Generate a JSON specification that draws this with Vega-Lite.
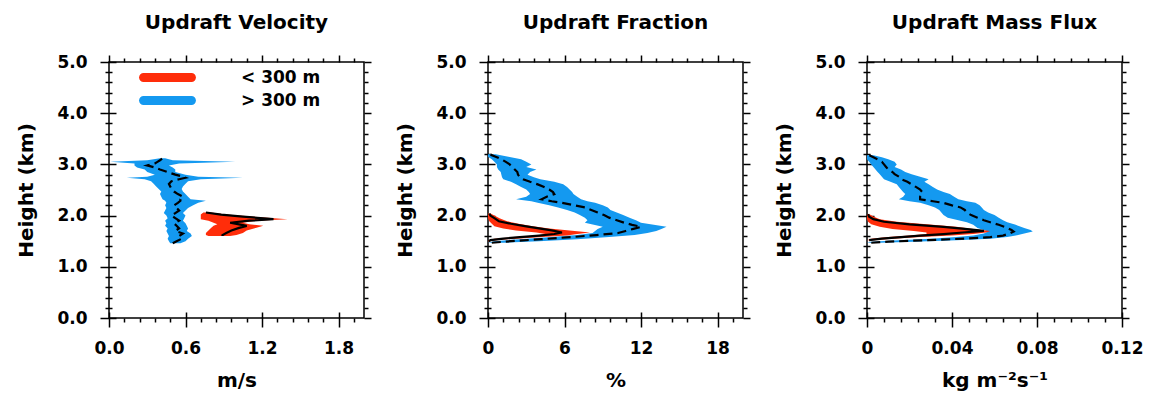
{
"$schema":"https://vega.github.io/schema/vega-lite/v6.json",
"padding":{"left":16,"top":12,"right":5,"bottom":5},
"datasets":{
"p1":[
{"h":3.12,"lo":0.40,"hi":0.44,"m":0.42,"g":"> 300 m"},
{"h":3.08,"lo":0.30,"hi":0.50,"m":0.40,"g":"> 300 m"},
{"h":3.05,"lo":0.01,"hi":0.99,"m":0.38,"g":"> 300 m"},
{"h":3.02,"lo":0.20,"hi":0.55,"m":0.36,"g":"> 300 m"},
{"h":2.98,"lo":0.20,"hi":0.47,"m":0.30,"g":"> 300 m"},
{"h":2.94,"lo":0.22,"hi":0.50,"m":0.36,"g":"> 300 m"},
{"h":2.90,"lo":0.28,"hi":0.52,"m":0.40,"g":"> 300 m"},
{"h":2.85,"lo":0.30,"hi":0.52,"m":0.46,"g":"> 300 m"},
{"h":2.80,"lo":0.36,"hi":0.60,"m":0.52,"g":"> 300 m"},
{"h":2.76,"lo":0.30,"hi":0.70,"m":0.58,"g":"> 300 m"},
{"h":2.74,"lo":0.14,"hi":1.05,"m":0.60,"g":"> 300 m"},
{"h":2.71,"lo":0.28,"hi":0.72,"m":0.55,"g":"> 300 m"},
{"h":2.67,"lo":0.33,"hi":0.62,"m":0.49,"g":"> 300 m"},
{"h":2.62,"lo":0.35,"hi":0.60,"m":0.47,"g":"> 300 m"},
{"h":2.57,"lo":0.37,"hi":0.58,"m":0.48,"g":"> 300 m"},
{"h":2.52,"lo":0.39,"hi":0.57,"m":0.49,"g":"> 300 m"},
{"h":2.47,"lo":0.41,"hi":0.58,"m":0.51,"g":"> 300 m"},
{"h":2.42,"lo":0.40,"hi":0.60,"m":0.54,"g":"> 300 m"},
{"h":2.37,"lo":0.41,"hi":0.62,"m":0.58,"g":"> 300 m"},
{"h":2.32,"lo":0.42,"hi":0.64,"m":0.56,"g":"> 300 m"},
{"h":2.29,"lo":0.44,"hi":0.76,"m":0.56,"g":"> 300 m"},
{"h":2.25,"lo":0.45,"hi":0.70,"m":0.54,"g":"> 300 m"},
{"h":2.20,"lo":0.44,"hi":0.66,"m":0.51,"g":"> 300 m"},
{"h":2.15,"lo":0.45,"hi":0.62,"m":0.53,"g":"> 300 m"},
{"h":2.10,"lo":0.44,"hi":0.60,"m":0.55,"g":"> 300 m"},
{"h":2.05,"lo":0.43,"hi":0.58,"m":0.52,"g":"> 300 m"},
{"h":2.00,"lo":0.45,"hi":0.60,"m":0.49,"g":"> 300 m"},
{"h":1.95,"lo":0.46,"hi":0.59,"m":0.52,"g":"> 300 m"},
{"h":1.90,"lo":0.44,"hi":0.58,"m":0.55,"g":"> 300 m"},
{"h":1.85,"lo":0.45,"hi":0.60,"m":0.51,"g":"> 300 m"},
{"h":1.80,"lo":0.44,"hi":0.61,"m":0.53,"g":"> 300 m"},
{"h":1.75,"lo":0.46,"hi":0.62,"m":0.55,"g":"> 300 m"},
{"h":1.70,"lo":0.45,"hi":0.61,"m":0.52,"g":"> 300 m"},
{"h":1.65,"lo":0.46,"hi":0.64,"m":0.58,"g":"> 300 m"},
{"h":1.60,"lo":0.47,"hi":0.65,"m":0.55,"g":"> 300 m"},
{"h":1.55,"lo":0.46,"hi":0.62,"m":0.57,"g":"> 300 m"},
{"h":1.50,"lo":0.47,"hi":0.60,"m":0.53,"g":"> 300 m"},
{"h":1.46,"lo":0.48,"hi":0.56,"m":0.50,"g":"> 300 m"},
{"h":2.06,"lo":0.74,"hi":0.80,"m":0.76,"g":"< 300 m"},
{"h":2.02,"lo":0.72,"hi":0.92,"m":0.88,"g":"< 300 m"},
{"h":1.98,"lo":0.72,"hi":1.12,"m":1.05,"g":"< 300 m"},
{"h":1.93,"lo":0.72,"hi":1.40,"m":1.29,"g":"< 300 m"},
{"h":1.90,"lo":0.78,"hi":1.15,"m":1.10,"g":"< 300 m"},
{"h":1.86,"lo":0.82,"hi":1.05,"m":0.95,"g":"< 300 m"},
{"h":1.83,"lo":0.85,"hi":1.10,"m":1.02,"g":"< 300 m"},
{"h":1.80,"lo":0.82,"hi":1.21,"m":1.08,"g":"< 300 m"},
{"h":1.76,"lo":0.80,"hi":1.15,"m":1.02,"g":"< 300 m"},
{"h":1.71,"lo":0.78,"hi":1.08,"m":0.96,"g":"< 300 m"},
{"h":1.66,"lo":0.76,"hi":1.05,"m":0.92,"g":"< 300 m"},
{"h":1.62,"lo":0.76,"hi":1.00,"m":0.89,"g":"< 300 m"},
{"h":1.60,"lo":0.78,"hi":0.95,"m":0.89,"g":"< 300 m"}
],
"p2":[
{"h":3.20,"lo":0.0,"hi":0.6,"m":0.1,"g":"> 300 m"},
{"h":3.15,"lo":0.0,"hi":1.6,"m":0.6,"g":"> 300 m"},
{"h":3.10,"lo":0.3,"hi":2.6,"m":1.05,"g":"> 300 m"},
{"h":3.05,"lo":0.5,"hi":3.0,"m":1.4,"g":"> 300 m"},
{"h":3.00,"lo":0.7,"hi":3.4,"m":1.7,"g":"> 300 m"},
{"h":2.95,"lo":0.7,"hi":3.0,"m":1.9,"g":"> 300 m"},
{"h":2.90,"lo":0.8,"hi":3.8,"m":2.1,"g":"> 300 m"},
{"h":2.85,"lo":1.0,"hi":3.3,"m":2.3,"g":"> 300 m"},
{"h":2.80,"lo":1.05,"hi":3.1,"m":2.35,"g":"> 300 m"},
{"h":2.75,"lo":1.1,"hi":3.6,"m":2.5,"g":"> 300 m"},
{"h":2.71,"lo":1.2,"hi":4.1,"m":2.75,"g":"> 300 m"},
{"h":2.66,"lo":1.8,"hi":5.2,"m":3.3,"g":"> 300 m"},
{"h":2.61,"lo":2.2,"hi":5.9,"m":3.9,"g":"> 300 m"},
{"h":2.56,"lo":2.6,"hi":6.2,"m":4.4,"g":"> 300 m"},
{"h":2.51,"lo":3.0,"hi":6.4,"m":4.8,"g":"> 300 m"},
{"h":2.46,"lo":3.2,"hi":6.6,"m":5.1,"g":"> 300 m"},
{"h":2.42,"lo":3.3,"hi":6.7,"m":5.2,"g":"> 300 m"},
{"h":2.37,"lo":3.0,"hi":7.0,"m":4.6,"g":"> 300 m"},
{"h":2.32,"lo":2.2,"hi":7.3,"m":4.2,"g":"> 300 m"},
{"h":2.28,"lo":3.4,"hi":7.8,"m":5.0,"g":"> 300 m"},
{"h":2.25,"lo":3.9,"hi":8.4,"m":5.8,"g":"> 300 m"},
{"h":2.20,"lo":4.8,"hi":9.0,"m":6.8,"g":"> 300 m"},
{"h":2.16,"lo":5.5,"hi":9.4,"m":7.6,"g":"> 300 m"},
{"h":2.11,"lo":6.2,"hi":9.6,"m":8.1,"g":"> 300 m"},
{"h":2.06,"lo":6.8,"hi":10.1,"m":8.6,"g":"> 300 m"},
{"h":2.01,"lo":7.2,"hi":10.6,"m":9.1,"g":"> 300 m"},
{"h":1.96,"lo":7.6,"hi":11.1,"m":9.5,"g":"> 300 m"},
{"h":1.91,"lo":7.8,"hi":11.6,"m":10.1,"g":"> 300 m"},
{"h":1.86,"lo":7.6,"hi":12.0,"m":10.7,"g":"> 300 m"},
{"h":1.82,"lo":8.3,"hi":13.0,"m":11.3,"g":"> 300 m"},
{"h":1.78,"lo":9.0,"hi":14.0,"m":12.0,"g":"> 300 m"},
{"h":1.74,"lo":8.6,"hi":13.6,"m":11.4,"g":"> 300 m"},
{"h":1.70,"lo":8.4,"hi":13.2,"m":10.8,"g":"> 300 m"},
{"h":1.66,"lo":8.2,"hi":12.5,"m":10.2,"g":"> 300 m"},
{"h":1.62,"lo":7.0,"hi":11.5,"m":8.5,"g":"> 300 m"},
{"h":1.58,"lo":5.0,"hi":9.5,"m":6.5,"g":"> 300 m"},
{"h":1.54,"lo":2.5,"hi":7.0,"m":4.2,"g":"> 300 m"},
{"h":1.50,"lo":0.5,"hi":4.0,"m":1.8,"g":"> 300 m"},
{"h":1.47,"lo":0.0,"hi":1.2,"m":0.3,"g":"> 300 m"},
{"h":2.04,"lo":0.0,"hi":0.2,"m":0.1,"g":"< 300 m"},
{"h":2.00,"lo":0.0,"hi":0.5,"m":0.2,"g":"< 300 m"},
{"h":1.95,"lo":0.0,"hi":0.9,"m":0.5,"g":"< 300 m"},
{"h":1.89,"lo":0.1,"hi":1.5,"m":0.85,"g":"< 300 m"},
{"h":1.84,"lo":0.3,"hi":2.4,"m":1.8,"g":"< 300 m"},
{"h":1.79,"lo":0.5,"hi":3.5,"m":3.0,"g":"< 300 m"},
{"h":1.75,"lo":1.2,"hi":4.8,"m":4.0,"g":"< 300 m"},
{"h":1.71,"lo":2.2,"hi":6.4,"m":5.0,"g":"< 300 m"},
{"h":1.67,"lo":3.8,"hi":8.0,"m":5.8,"g":"< 300 m"},
{"h":1.64,"lo":4.5,"hi":7.0,"m":5.2,"g":"< 300 m"},
{"h":1.61,"lo":3.8,"hi":6.2,"m":4.0,"g":"< 300 m"},
{"h":1.58,"lo":2.0,"hi":4.2,"m":2.5,"g":"< 300 m"},
{"h":1.55,"lo":0.5,"hi":2.2,"m":1.2,"g":"< 300 m"},
{"h":1.52,"lo":0.0,"hi":0.6,"m":0.2,"g":"< 300 m"},
{"h":1.50,"lo":0.0,"hi":0.1,"m":0.05,"g":"< 300 m"}
],
"p3":[
{"h":3.18,"lo":0.0,"hi":0.003,"m":0.001,"g":"> 300 m"},
{"h":3.14,"lo":0.0,"hi":0.007,"m":0.003,"g":"> 300 m"},
{"h":3.10,"lo":0.0,"hi":0.010,"m":0.005,"g":"> 300 m"},
{"h":3.05,"lo":0.001,"hi":0.013,"m":0.007,"g":"> 300 m"},
{"h":3.00,"lo":0.002,"hi":0.014,"m":0.008,"g":"> 300 m"},
{"h":2.95,"lo":0.003,"hi":0.013,"m":0.009,"g":"> 300 m"},
{"h":2.90,"lo":0.004,"hi":0.016,"m":0.010,"g":"> 300 m"},
{"h":2.85,"lo":0.005,"hi":0.018,"m":0.012,"g":"> 300 m"},
{"h":2.81,"lo":0.006,"hi":0.021,"m":0.013,"g":"> 300 m"},
{"h":2.76,"lo":0.007,"hi":0.025,"m":0.015,"g":"> 300 m"},
{"h":2.71,"lo":0.008,"hi":0.029,"m":0.016,"g":"> 300 m"},
{"h":2.66,"lo":0.011,"hi":0.027,"m":0.019,"g":"> 300 m"},
{"h":2.61,"lo":0.014,"hi":0.029,"m":0.021,"g":"> 300 m"},
{"h":2.56,"lo":0.015,"hi":0.031,"m":0.023,"g":"> 300 m"},
{"h":2.51,"lo":0.016,"hi":0.033,"m":0.025,"g":"> 300 m"},
{"h":2.46,"lo":0.017,"hi":0.036,"m":0.026,"g":"> 300 m"},
{"h":2.42,"lo":0.018,"hi":0.039,"m":0.026,"g":"> 300 m"},
{"h":2.37,"lo":0.017,"hi":0.041,"m":0.025,"g":"> 300 m"},
{"h":2.32,"lo":0.015,"hi":0.043,"m":0.025,"g":"> 300 m"},
{"h":2.28,"lo":0.020,"hi":0.047,"m":0.031,"g":"> 300 m"},
{"h":2.25,"lo":0.025,"hi":0.051,"m":0.036,"g":"> 300 m"},
{"h":2.20,"lo":0.029,"hi":0.053,"m":0.040,"g":"> 300 m"},
{"h":2.16,"lo":0.032,"hi":0.054,"m":0.044,"g":"> 300 m"},
{"h":2.11,"lo":0.034,"hi":0.055,"m":0.046,"g":"> 300 m"},
{"h":2.06,"lo":0.035,"hi":0.057,"m":0.047,"g":"> 300 m"},
{"h":2.01,"lo":0.036,"hi":0.060,"m":0.049,"g":"> 300 m"},
{"h":1.96,"lo":0.038,"hi":0.062,"m":0.052,"g":"> 300 m"},
{"h":1.91,"lo":0.043,"hi":0.064,"m":0.055,"g":"> 300 m"},
{"h":1.87,"lo":0.047,"hi":0.066,"m":0.058,"g":"> 300 m"},
{"h":1.82,"lo":0.050,"hi":0.070,"m":0.062,"g":"> 300 m"},
{"h":1.76,"lo":0.052,"hi":0.074,"m":0.066,"g":"> 300 m"},
{"h":1.72,"lo":0.055,"hi":0.077,"m":0.068,"g":"> 300 m"},
{"h":1.69,"lo":0.057,"hi":0.078,"m":0.069,"g":"> 300 m"},
{"h":1.65,"lo":0.055,"hi":0.074,"m":0.067,"g":"> 300 m"},
{"h":1.61,"lo":0.050,"hi":0.070,"m":0.064,"g":"> 300 m"},
{"h":1.58,"lo":0.042,"hi":0.066,"m":0.058,"g":"> 300 m"},
{"h":1.55,"lo":0.030,"hi":0.058,"m":0.046,"g":"> 300 m"},
{"h":1.52,"lo":0.015,"hi":0.042,"m":0.028,"g":"> 300 m"},
{"h":1.49,"lo":0.002,"hi":0.022,"m":0.010,"g":"> 300 m"},
{"h":1.47,"lo":0.0,"hi":0.006,"m":0.002,"g":"> 300 m"},
{"h":2.03,"lo":0.0,"hi":0.001,"m":0.0005,"g":"< 300 m"},
{"h":1.98,"lo":0.0,"hi":0.003,"m":0.001,"g":"< 300 m"},
{"h":1.93,"lo":0.0,"hi":0.006,"m":0.003,"g":"< 300 m"},
{"h":1.88,"lo":0.0005,"hi":0.014,"m":0.008,"g":"< 300 m"},
{"h":1.83,"lo":0.002,"hi":0.028,"m":0.020,"g":"< 300 m"},
{"h":1.78,"lo":0.006,"hi":0.042,"m":0.036,"g":"< 300 m"},
{"h":1.74,"lo":0.012,"hi":0.050,"m":0.046,"g":"< 300 m"},
{"h":1.70,"lo":0.022,"hi":0.058,"m":0.055,"g":"< 300 m"},
{"h":1.67,"lo":0.028,"hi":0.056,"m":0.045,"g":"< 300 m"},
{"h":1.64,"lo":0.028,"hi":0.050,"m":0.036,"g":"< 300 m"},
{"h":1.61,"lo":0.020,"hi":0.040,"m":0.025,"g":"< 300 m"},
{"h":1.58,"lo":0.010,"hi":0.025,"m":0.016,"g":"< 300 m"},
{"h":1.55,"lo":0.002,"hi":0.012,"m":0.007,"g":"< 300 m"},
{"h":1.52,"lo":0.0,"hi":0.003,"m":0.001,"g":"< 300 m"}
]
},
"hconcat":[
{
"width":255,"height":256,
"title":{"text":"Updraft Velocity"},
"data":{"name":"p1"},
"layer":[
{"transform":[{"filter":"datum.g == '> 300 m'"}],
 "mark":{"type":"area","orient":"horizontal"},
 "encoding":{
  "y":{"field":"h","type":"quantitative","scale":{"domain":[0,5],"nice":false},
   "axis":{"orient":"left","values":[0,1,2,3,4,5],"format":".1f","offset":-7,"tickSize":16,"labelPadding":13,"title":"Height (km)","titlePadding":20}},
  "x":{"field":"lo","type":"quantitative","stack":null,"scale":{"domain":[0,2],"nice":false},
   "axis":{"orient":"bottom","values":[0,0.6,1.2,1.8],"format":".1f","offset":-6,"tickSize":15,"labelPadding":13,"title":"m/s","titlePadding":14}},
  "x2":{"field":"hi"},
  "color":{"field":"g","type":"nominal","scale":{"domain":["< 300 m","> 300 m"],"range":["#ff2d0a","#1499f0"]},
   "legend":{"orient":"none","legendX":47,"legendY":4,"title":null,"padding":0,
    "symbolType":"M -2.1 -0.395 L 2.1 -0.395 A 0.395 0.395 0 0 1 2.1 0.395 L -2.1 0.395 A 0.395 0.395 0 0 1 -2.1 -0.395 Z",
    "symbolSize":520,"symbolStrokeWidth":0,"symbolOpacity":1,"labelOffset":62,"rowPadding":3,
    "labelFont":"DejaVu Sans","labelFontWeight":"bold","labelFontSize":17,"labelColor":"black"}}
 }},
{"transform":[{"filter":"datum.g == '< 300 m'"}],
 "mark":{"type":"area","orient":"horizontal"},
 "encoding":{
  "y":{"field":"h","type":"quantitative","axis":{"orient":"left","values":[0.2,0.4,0.6,0.8,1.2,1.4,1.6,1.8,2.2,2.4,2.6,2.8,3.2,3.4,3.6,3.8,4.2,4.4,4.6,4.8],"labels":false,"offset":-3,"tickSize":7,"title":null}},
  "x":{"field":"lo","type":"quantitative","stack":null,"axis":{"orient":"bottom","values":[0.12,0.24,0.36,0.48,0.72,0.84,0.96,1.08,1.32,1.44,1.56,1.68,1.92],"labels":false,"tickSize":4,"title":null}},
  "x2":{"field":"hi"},
  "color":{"field":"g","type":"nominal","scale":{"domain":["< 300 m","> 300 m"],"range":["#ff2d0a","#1499f0"]}}
 }},
{"transform":[{"filter":"datum.g == '< 300 m'"}],
 "mark":{"type":"line","color":"black","strokeWidth":2.2},
 "encoding":{
  "y":{"field":"h","type":"quantitative","axis":{"orient":"right","values":[0,1,2,3,4,5],"labels":false,"tickSize":7,"title":null}},
  "x":{"field":"m","type":"quantitative","axis":{"orient":"top","values":[0,0.6,1.2,1.8],"labels":false,"tickSize":7,"title":null}},
  "order":{"field":"h"}
 }},
{"transform":[{"filter":"datum.g == '> 300 m'"}],
 "mark":{"type":"line","color":"black","strokeWidth":2.2,"strokeDash":[9,5]},
 "encoding":{
  "y":{"field":"h","type":"quantitative","axis":{"orient":"right","values":[0.2,0.4,0.6,0.8,1.2,1.4,1.6,1.8,2.2,2.4,2.6,2.8,3.2,3.4,3.6,3.8,4.2,4.4,4.6,4.8],"labels":false,"tickSize":4,"title":null}},
  "x":{"field":"m","type":"quantitative","axis":{"orient":"top","values":[0.12,0.24,0.36,0.48,0.72,0.84,0.96,1.08,1.32,1.44,1.56,1.68,1.92],"labels":false,"tickSize":4,"title":null}},
  "order":{"field":"h"}
 }}
],
"resolve":{"axis":{"x":"independent","y":"independent"}}
},
{
"width":255,"height":256,
"title":{"text":"Updraft Fraction"},
"data":{"name":"p2"},
"layer":[
{"transform":[{"filter":"datum.g == '> 300 m'"}],
 "mark":{"type":"area","orient":"horizontal"},
 "encoding":{
  "y":{"field":"h","type":"quantitative","scale":{"domain":[0,5],"nice":false},
   "axis":{"orient":"left","values":[0,1,2,3,4,5],"format":".1f","offset":-7,"tickSize":16,"labelPadding":13,"title":"Height (km)","titlePadding":20}},
  "x":{"field":"lo","type":"quantitative","stack":null,"scale":{"domain":[0,20],"nice":false},
   "axis":{"orient":"bottom","values":[0,6,12,18],"format":"d","offset":-6,"tickSize":15,"labelPadding":13,"title":"%","titlePadding":14}},
  "x2":{"field":"hi"},
  "color":{"field":"g","type":"nominal","scale":{"domain":["< 300 m","> 300 m"],"range":["#ff2d0a","#1499f0"]},"legend":null}
 }},
{"transform":[{"filter":"datum.g == '< 300 m'"}],
 "mark":{"type":"area","orient":"horizontal"},
 "encoding":{
  "y":{"field":"h","type":"quantitative","axis":{"orient":"left","values":[0.2,0.4,0.6,0.8,1.2,1.4,1.6,1.8,2.2,2.4,2.6,2.8,3.2,3.4,3.6,3.8,4.2,4.4,4.6,4.8],"labels":false,"offset":-3,"tickSize":7,"title":null}},
  "x":{"field":"lo","type":"quantitative","stack":null,"axis":{"orient":"bottom","values":[1.2,2.4,3.6,4.8,7.2,8.4,9.6,10.8,13.2,14.4,15.6,16.8,19.2],"labels":false,"tickSize":4,"title":null}},
  "x2":{"field":"hi"},
  "color":{"field":"g","type":"nominal","scale":{"domain":["< 300 m","> 300 m"],"range":["#ff2d0a","#1499f0"]},"legend":null}
 }},
{"transform":[{"filter":"datum.g == '< 300 m'"}],
 "mark":{"type":"line","color":"black","strokeWidth":2.2},
 "encoding":{
  "y":{"field":"h","type":"quantitative","axis":{"orient":"right","values":[0,1,2,3,4,5],"labels":false,"tickSize":7,"title":null}},
  "x":{"field":"m","type":"quantitative","axis":{"orient":"top","values":[0,6,12,18],"labels":false,"tickSize":7,"title":null}},
  "order":{"field":"h"}
 }},
{"transform":[{"filter":"datum.g == '> 300 m'"}],
 "mark":{"type":"line","color":"black","strokeWidth":2.2,"strokeDash":[9,5]},
 "encoding":{
  "y":{"field":"h","type":"quantitative","axis":{"orient":"right","values":[0.2,0.4,0.6,0.8,1.2,1.4,1.6,1.8,2.2,2.4,2.6,2.8,3.2,3.4,3.6,3.8,4.2,4.4,4.6,4.8],"labels":false,"tickSize":4,"title":null}},
  "x":{"field":"m","type":"quantitative","axis":{"orient":"top","values":[1.2,2.4,3.6,4.8,7.2,8.4,9.6,10.8,13.2,14.4,15.6,16.8,19.2],"labels":false,"tickSize":4,"title":null}},
  "order":{"field":"h"}
 }}
],
"resolve":{"axis":{"x":"independent","y":"independent"}}
},
{
"width":255,"height":256,
"title":{"text":"Updraft Mass Flux"},
"data":{"name":"p3"},
"layer":[
{"transform":[{"filter":"datum.g == '> 300 m'"}],
 "mark":{"type":"area","orient":"horizontal"},
 "encoding":{
  "y":{"field":"h","type":"quantitative","scale":{"domain":[0,5],"nice":false},
   "axis":{"orient":"left","values":[0,1,2,3,4,5],"format":".1f","offset":-7,"tickSize":16,"labelPadding":13,"title":"Height (km)","titlePadding":20}},
  "x":{"field":"lo","type":"quantitative","stack":null,"scale":{"domain":[0,0.12],"nice":false},
   "axis":{"orient":"bottom","values":[0,0.04,0.08,0.12],"labelExpr":"datum.value == 0 ? '0' : format(datum.value, '.2f')","offset":-6,"tickSize":15,"labelPadding":13,"title":"kg m⁻²s⁻¹","titlePadding":14}},
  "x2":{"field":"hi"},
  "color":{"field":"g","type":"nominal","scale":{"domain":["< 300 m","> 300 m"],"range":["#ff2d0a","#1499f0"]},"legend":null}
 }},
{"transform":[{"filter":"datum.g == '< 300 m'"}],
 "mark":{"type":"area","orient":"horizontal"},
 "encoding":{
  "y":{"field":"h","type":"quantitative","axis":{"orient":"left","values":[0.2,0.4,0.6,0.8,1.2,1.4,1.6,1.8,2.2,2.4,2.6,2.8,3.2,3.4,3.6,3.8,4.2,4.4,4.6,4.8],"labels":false,"offset":-3,"tickSize":7,"title":null}},
  "x":{"field":"lo","type":"quantitative","stack":null,"axis":{"orient":"bottom","values":[0.008,0.016,0.024,0.032,0.048,0.056,0.064,0.072,0.088,0.096,0.104,0.112],"labels":false,"tickSize":4,"title":null}},
  "x2":{"field":"hi"},
  "color":{"field":"g","type":"nominal","scale":{"domain":["< 300 m","> 300 m"],"range":["#ff2d0a","#1499f0"]},"legend":null}
 }},
{"transform":[{"filter":"datum.g == '< 300 m'"}],
 "mark":{"type":"line","color":"black","strokeWidth":2.2},
 "encoding":{
  "y":{"field":"h","type":"quantitative","axis":{"orient":"right","values":[0,1,2,3,4,5],"labels":false,"tickSize":7,"title":null}},
  "x":{"field":"m","type":"quantitative","axis":{"orient":"top","values":[0,0.04,0.08,0.12],"labels":false,"tickSize":7,"title":null}},
  "order":{"field":"h"}
 }},
{"transform":[{"filter":"datum.g == '> 300 m'"}],
 "mark":{"type":"line","color":"black","strokeWidth":2.2,"strokeDash":[9,5]},
 "encoding":{
  "y":{"field":"h","type":"quantitative","axis":{"orient":"right","values":[0.2,0.4,0.6,0.8,1.2,1.4,1.6,1.8,2.2,2.4,2.6,2.8,3.2,3.4,3.6,3.8,4.2,4.4,4.6,4.8],"labels":false,"tickSize":4,"title":null}},
  "x":{"field":"m","type":"quantitative","axis":{"orient":"top","values":[0.008,0.016,0.024,0.032,0.048,0.056,0.064,0.072,0.088,0.096,0.104,0.112],"labels":false,"tickSize":4,"title":null}},
  "order":{"field":"h"}
 }}
],
"resolve":{"axis":{"x":"independent","y":"independent"}}
}
],
"spacing":124,
"bounds":"flush",
"resolve":{"scale":{"color":"independent","x":"independent","y":"independent"},"legend":{"color":"independent"}},
"config":{
 "view":{"stroke":"black","strokeWidth":1.5},
 "axis":{"tickColor":"black","tickWidth":1.5,"domain":false,"grid":false,"labelFont":"DejaVu Sans","labelFontWeight":"bold","labelFontSize":17,"labelColor":"black","titleFont":"DejaVu Sans","titleFontWeight":"bold","titleFontSize":20,"titleColor":"black","labelFlush":false,"labelOverlap":false,"labelBound":false},
 "title":{"font":"DejaVu Sans","fontSize":20,"fontWeight":"bold","color":"black","anchor":"middle","frame":"group","baseline":"alphabetic","offset":20}
}
}
